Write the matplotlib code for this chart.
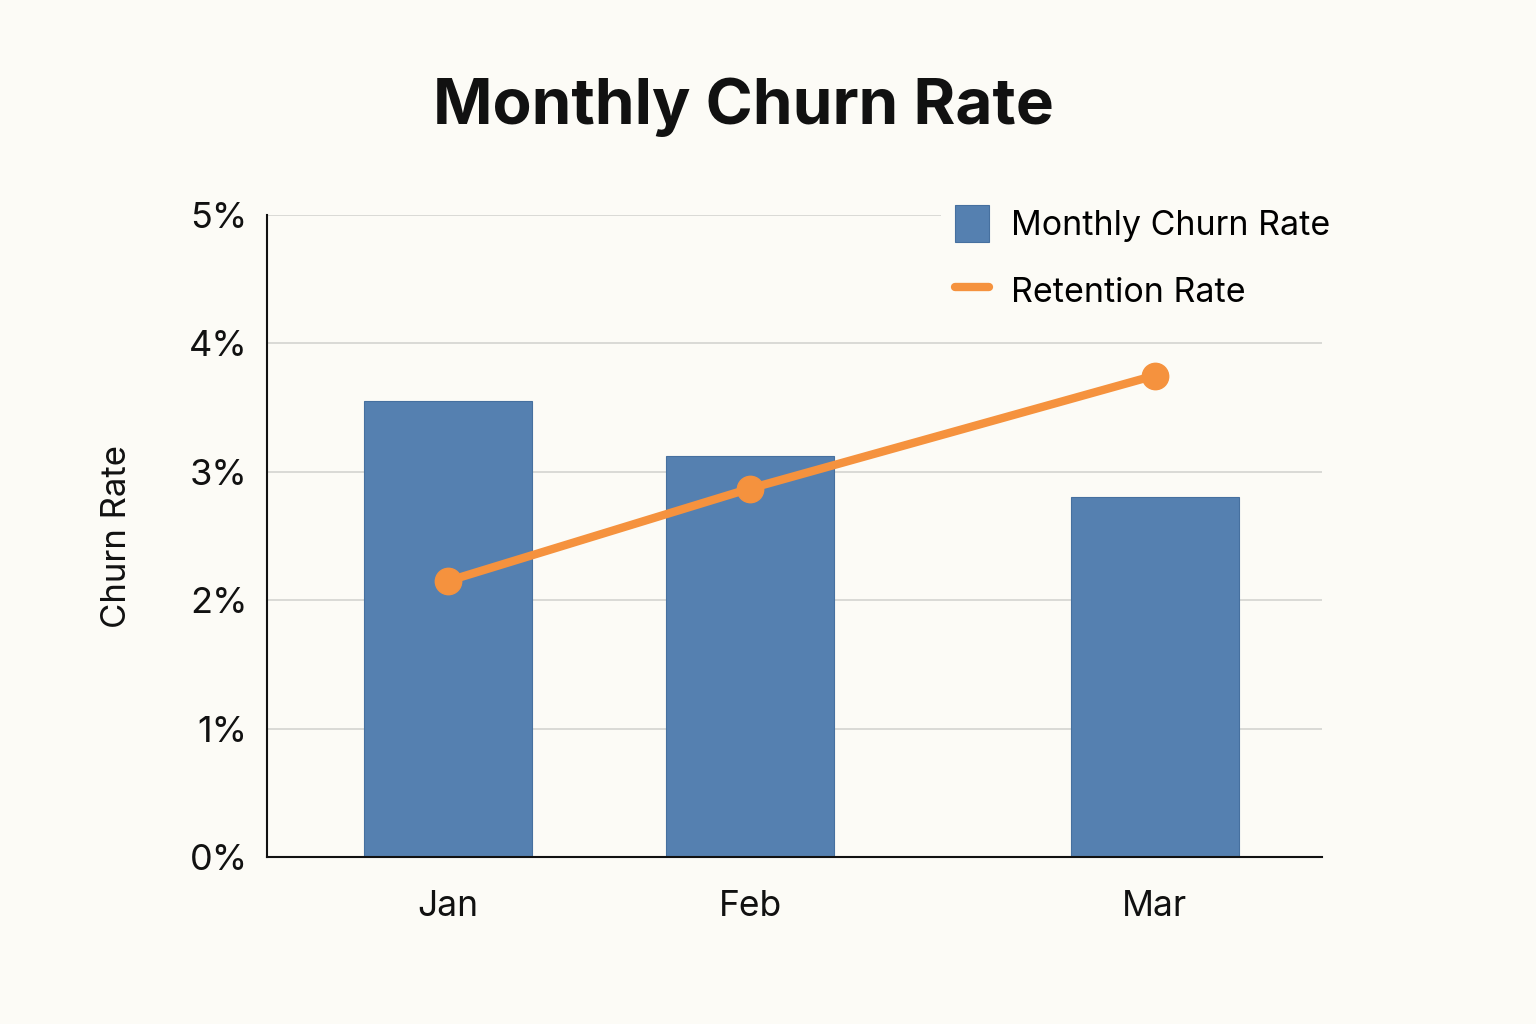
import matplotlib.pyplot as plt
from matplotlib.ticker import PercentFormatter
from matplotlib.lines import Line2D

# datos
meses = ["Jan", "Feb", "Mar"]
posiciones = [0, 1, 2.34]
churn = [3.55, 3.12, 2.80]
retencion = [2.15, 2.87, 3.75]

fondo = "#fcfbf6"
azul = "#5580b0"
naranja = "#f5923e"

plt.rcParams['font.family'] = ['Inter', 'DejaVu Sans']

fig = plt.figure(figsize=(15.36, 10.24), dpi=100, facecolor=fondo)
ax = fig.add_axes([0.1738, 0.1631, 0.6869, 0.6269], facecolor=fondo)

barras = ax.bar(posiciones, churn, width=0.555, color=azul, edgecolor="#46709f",
                linewidth=0.8, zorder=2)
ax.plot(posiciones, retencion, color=naranja, linewidth=6, marker="o",
        markersize=19, solid_capstyle="round", zorder=3)

ax.set_xlim(-0.6, 2.894)
ax.set_ylim(0, 5)
ax.set_yticks(range(0, 6))
ax.yaxis.set_major_formatter(PercentFormatter(decimals=0))
ax.set_xticks(posiciones)
ax.set_xticklabels(meses)
ax.tick_params(axis="both", length=0, colors="#111111")
ax.tick_params(axis="x", pad=24, labelsize=25.5)
ax.tick_params(axis="y", pad=14, labelsize=26)

ax.grid(axis="y", color="#d4d4d0", linewidth=1.2, zorder=0)
ax.set_axisbelow(True)
for lado in ["top", "right"]:
    ax.spines[lado].set_visible(False)
ax.spines["left"].set_color("#111111")
ax.spines["bottom"].set_color("#111111")
ax.spines["left"].set_linewidth(1.5)
ax.spines["bottom"].set_linewidth(1.5)

ax.set_ylabel("Churn Rate", fontsize=25, labelpad=40, color="#111111")

fig.text(0.484, 0.895, "Monthly Churn Rate", fontsize=46, fontweight="bold",
         ha="center", va="center", color="#111111")

linea_ley = Line2D([0], [0], color=naranja, linewidth=6, solid_capstyle="round")
ax.legend([barras, linea_ley], ["Monthly Churn Rate", "Retention Rate"],
          loc="upper right", bbox_to_anchor=(1.037, 1.063), fontsize=24.5,
          frameon=True, facecolor=fondo, edgecolor="none", framealpha=1,
          handlelength=1.0, handleheight=1.3, handletextpad=0.65,
          labelspacing=0.88)

fig.savefig("out.png", dpi=100, facecolor=fondo)
